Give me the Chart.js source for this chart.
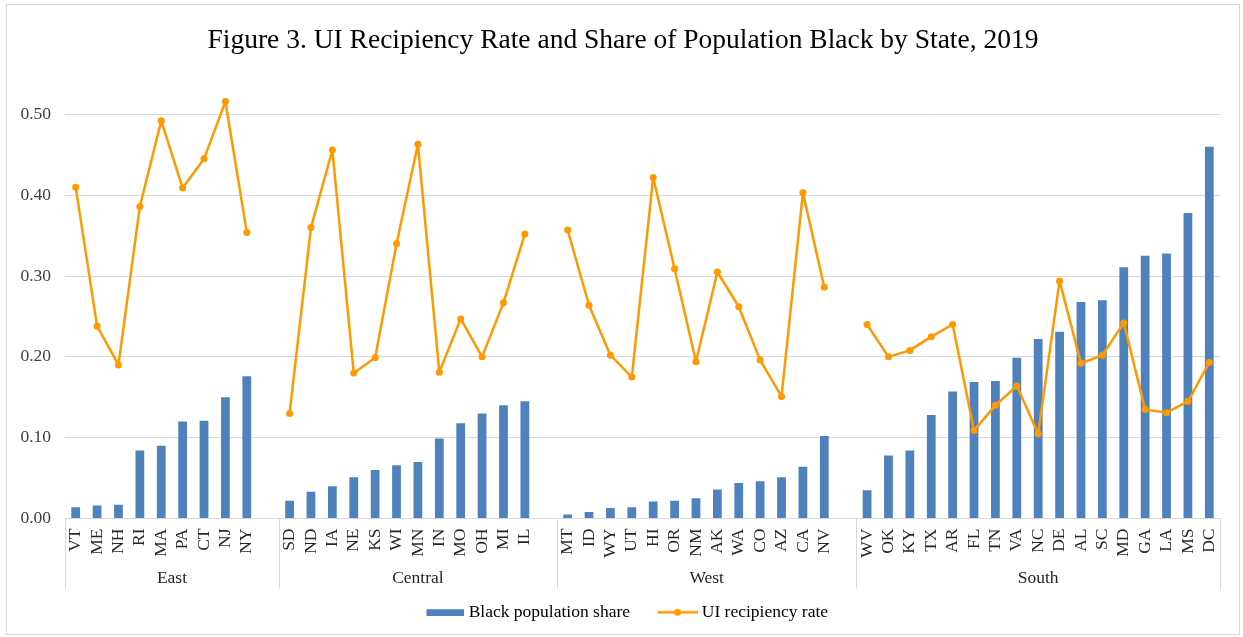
<!DOCTYPE html>
<html>
<head>
<meta charset="utf-8">
<script src="https://cdn.jsdelivr.net/npm/chart.js@4.4.0/dist/chart.umd.min.js"></script>
<style>
  html, body { margin: 0; padding: 0; background: #ffffff; }
  #wrap { width: 1243px; height: 637px; }
</style>
</head>
<body>
<div id="wrap"><canvas id="c" width="1243" height="637"></canvas></div>
<script>
// ---- Data ----
const groupNames = ['East', 'Central', 'West', 'South'];

const eastStates = ['VT','ME','NH','RI','MA','PA','CT','NJ','NY'];
const eastBlack  = [0.014,0.016,0.017,0.084,0.090,0.120,0.121,0.150,0.176];
const eastUI     = [0.410,0.238,0.190,0.386,0.492,0.409,0.445,0.516,0.354];

const centralStates = ['SD','ND','IA','NE','KS','WI','MN','IN','MO','OH','MI','IL'];
const centralBlack  = [0.022,0.033,0.040,0.051,0.060,0.066,0.070,0.099,0.118,0.130,0.140,0.145];
const centralUI     = [0.130,0.360,0.456,0.180,0.199,0.340,0.463,0.181,0.247,0.200,0.267,0.352];

const westStates = ['MT','ID','WY','UT','HI','OR','NM','AK','WA','CO','AZ','CA','NV'];
const westBlack  = [0.005,0.008,0.013,0.014,0.021,0.022,0.025,0.036,0.044,0.046,0.051,0.064,0.102];
const westUI     = [0.357,0.264,0.202,0.175,0.422,0.309,0.194,0.305,0.262,0.196,0.151,0.403,0.286];

const southStates = ['WV','OK','KY','TX','AR','FL','TN','VA','NC','DE','AL','SC','MD','GA','LA','MS','DC'];
const southBlack  = [0.035,0.078,0.084,0.128,0.157,0.169,0.170,0.199,0.222,0.231,0.268,0.270,0.311,0.325,0.328,0.378,0.460];
const southUI     = [0.240,0.200,0.208,0.225,0.240,0.109,0.140,0.164,0.105,0.294,0.192,0.202,0.242,0.135,0.131,0.145,0.193];

const yTickValues = [0.00, 0.10, 0.20, 0.30, 0.40, 0.50];

// ---- Build the flat category table (one blank slot after each group except the last) ----
const groups = [
  { states: eastStates,    black: eastBlack,    ui: eastUI },
  { states: centralStates, black: centralBlack, ui: centralUI },
  { states: westStates,    black: westBlack,    ui: westUI },
  { states: southStates,   black: southBlack,   ui: southUI }
];
const labels = [], blackData = [], uiData = [], groupStart = [];
groups.forEach((g, gi) => {
  groupStart.push(labels.length);
  g.states.forEach((s, i) => { labels.push(s); blackData.push(g.black[i]); uiData.push(g.ui[i]); });
  if (gi < groups.length - 1) { labels.push(''); blackData.push(null); uiData.push(null); }
});
groupStart.push(labels.length);

const SERIF = "'Liberation Serif', 'Times New Roman', serif";
const FS = 17.5;
const BLUE = '#4F81BD';
const ORANGE = '#FF9900';
const GRID = '#D9D9D9';
const TEXT = '#262626';
const XAXIS_H = 70;
const TITLE_SHIFT = 13;
const LEGEND_SHIFT = 10;

// legend swatches (visible part at the right end of a wider transparent image)
function makeBarSwatch() {
  const c = document.createElement('canvas'); c.width = 57; c.height = 8;
  const g = c.getContext('2d'); g.fillStyle = BLUE; g.fillRect(19, 1, 38, 7); return c;
}
function makeLineSwatch() {
  const c = document.createElement('canvas'); c.width = 57; c.height = 9;
  const g = c.getContext('2d');
  g.strokeStyle = ORANGE; g.lineWidth = 2.5; g.beginPath(); g.moveTo(17, 4.5); g.lineTo(57, 4.5); g.stroke();
  g.fillStyle = ORANGE; g.beginPath(); g.arc(37, 4.5, 3.5, 0, Math.PI * 2); g.fill(); return c;
}
const swatches = [makeBarSwatch(), makeLineSwatch()];

const groupPlugin = {
  id: 'groupAxis',
  afterLayout(chart) {
    if (chart.titleBlock) { chart.titleBlock.left += TITLE_SHIFT; chart.titleBlock.right += TITLE_SHIFT; }
    if (chart.legend) { chart.legend.left += LEGEND_SHIFT; chart.legend.right += LEGEND_SHIFT; }
  },
  beforeDraw(chart) {
    const ctx = chart.ctx;
    ctx.save();
    ctx.strokeStyle = GRID; ctx.lineWidth = 1;
    ctx.strokeRect(6.5, 4.5, 1233, 630);
    ctx.restore();
  },
  afterDraw(chart) {
    const x = chart.scales.x;
    const ctx = chart.ctx;
    const step = x.getPixelForValue(1) - x.getPixelForValue(0);
    const top = chart.chartArea.bottom;
    const bottom = top + XAXIS_H;
    const edge = (i) => i < labels.length ? x.getPixelForValue(i) - step / 2 : x.getPixelForValue(labels.length - 1) + step / 2;
    ctx.save();
    ctx.strokeStyle = GRID; ctx.lineWidth = 1;
    groupStart.forEach((b) => {
      const px = Math.round(edge(b)) + 0.5;
      ctx.beginPath(); ctx.moveTo(px, top); ctx.lineTo(px, bottom); ctx.stroke();
    });
    ctx.fillStyle = TEXT;
    ctx.font = FS + 'px ' + SERIF;
    ctx.textAlign = 'center'; ctx.textBaseline = 'middle';
    groupNames.forEach((n, i) => {
      const cx = (edge(groupStart[i]) + edge(groupStart[i + 1])) / 2;
      ctx.fillText(n, cx, top + 60);
    });
    ctx.restore();
  }
};

new Chart(document.getElementById('c'), {
  type: 'bar',
  data: {
    labels: labels,
    datasets: [
      {
        type: 'bar', label: 'Black population share', data: blackData,
        backgroundColor: BLUE, borderWidth: 0,
        categoryPercentage: 1.0, barPercentage: 0.41, order: 2
      },
      {
        type: 'line', label: 'UI recipiency rate', data: uiData,
        borderColor: ORANGE, backgroundColor: ORANGE, borderWidth: 2.5,
        borderJoinStyle: 'round', borderCapStyle: 'round',
        pointRadius: 3.5, pointHoverRadius: 3.5, pointBackgroundColor: ORANGE, pointBorderWidth: 0,
        tension: 0, spanGaps: false, order: 1
      }
    ]
  },
  options: {
    responsive: false, animation: false, devicePixelRatio: 1,
    layout: { padding: { left: 0, right: 23, top: 0, bottom: 6 } },
    plugins: {
      tooltip: { enabled: false },
      title: {
        display: true,
        text: 'Figure 3. UI Recipiency Rate and Share of Population Black by State, 2019',
        font: { family: SERIF, size: 27.5, weight: 'normal' },
        color: '#000000',
        padding: { top: 24, bottom: 17 }
      },
      legend: {
        position: 'bottom',
        labels: {
          font: { family: SERIF, size: FS }, color: TEXT,
          usePointStyle: true, pointStyleWidth: 48, boxHeight: 8, padding: 15,
          generateLabels(chart) {
            return chart.data.datasets.map((ds, i) => ({
              text: ds.label, datasetIndex: i, pointStyle: swatches[i],
              fillStyle: ds.backgroundColor, strokeStyle: ds.borderColor, lineWidth: 0, hidden: false
            }));
          }
        }
      }
    },
    scales: {
      x: {
        grid: { display: true, color: 'rgba(0,0,0,0)', drawTicks: false },
        border: { display: true, color: GRID, width: 1 },
        ticks: {
          autoSkip: false, minRotation: 90, maxRotation: 90, padding: 10,
          font: { family: SERIF, size: FS }, color: TEXT
        },
        afterFit(scale) { scale.height = XAXIS_H; }
      },
      y: {
        min: 0, max: 0.55,
        afterBuildTicks(scale) { scale.ticks = yTickValues.map(v => ({ value: v })); },
        grid: { color: GRID, lineWidth: 1, drawTicks: false },
        border: { display: false },
        ticks: {
          padding: 14, font: { family: SERIF, size: FS }, color: '#404040',
          callback: (v) => Number(v).toFixed(2)
        },
        afterFit(scale) { scale.width = 65; }
      }
    }
  },
  plugins: [groupPlugin]
});
</script>
</body>
</html>
